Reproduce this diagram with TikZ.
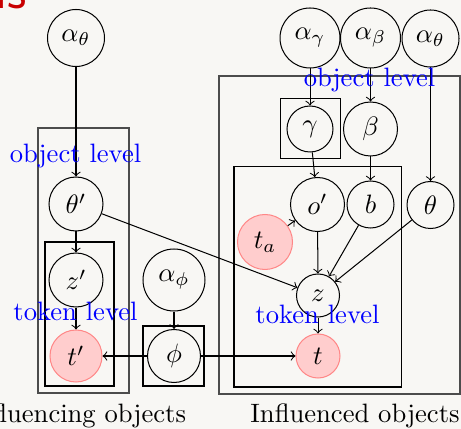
\documentclass[tikz,border=0pt]{standalone}
\usepackage{amsmath}
\definecolor{bg}{RGB}{248,247,244}
\definecolor{pinkfill}{RGB}{255,205,205}
\definecolor{pinkline}{RGB}{255,135,135}
\definecolor{titlered}{RGB}{200,0,0}
\newcommand{\pxu}{0.376pt}
\tikzset{
  var/.style={circle, draw, inner sep=0pt, line width=0.38pt},
  obs/.style={var, fill=pinkfill, draw=pinkline},
  plate/.style={draw, line width=0.38pt},
  outerplate/.style={draw=black!70, line width=0.5pt},
  lvl/.style={text=blue, anchor=base, inner sep=0pt},
  captext/.style={anchor=base, inner sep=0pt},
  arr/.style={->, line width=0.38pt},
}
\begin{document}
\begin{tikzpicture}[x=0.376pt, y=-0.376pt]
  \fill[bg] (0,0) rectangle (461,429);
  \useasboundingbox (0,0) rectangle (461,429);

  % slide title fragment
  \node[anchor=base west, inner sep=0pt, text=titlered, font=\sffamily\fontsize{20}{24}\selectfont] (title) at (-5,9) {is};

  % plates
  \draw[outerplate] (38,128) rectangle (129,393);
  \draw[plate] (45,242) rectangle (114,386);
  \draw[plate] (143,326) rectangle (204,386);
  \draw[outerplate] (219,76) rectangle (460,394);
  \draw[plate] (280,99) rectangle (340,159);
  \draw[plate] (234,167) rectangle (401,387);

  % left column
  \node[var, minimum size=57*\pxu] (athL) at (76,38) {$\alpha_\theta$};
  \node[var, minimum size=54*\pxu] (thp) at (76,204) {$\theta'$};
  \node[var, minimum size=54*\pxu] (zp) at (76,280) {$z'$};
  \node[obs, minimum size=52*\pxu] (tp) at (76,356) {$t'$};

  % middle
  \node[var, minimum size=62*\pxu] (aphi) at (174,280) {$\alpha_\phi$};
  \node[var, minimum size=53*\pxu] (phi) at (174,356) {$\phi$};

  % right side
  \node[var, minimum size=60*\pxu] (agam) at (310,38) {$\alpha_\gamma$};
  \node[var, minimum size=60*\pxu] (abet) at (370.5,38) {$\alpha_\beta$};
  \node[var, minimum size=57*\pxu] (athR) at (430.5,38.5) {$\alpha_\theta$};
  \node[var, minimum size=46*\pxu] (gam) at (310,129) {$\gamma$};
  \node[var, minimum size=54*\pxu] (bet) at (370.5,129) {$\beta$};
  \node[var, minimum size=54*\pxu] (op) at (317.5,204.5) {$o'$};
  \node[var, minimum size=47*\pxu] (b) at (370.5,204.5) {$b$};
  \node[var, minimum size=47*\pxu] (thR) at (430.5,205) {$\theta$};
  \node[obs, minimum size=55*\pxu] (ta) at (265,242) {$t_a$};
  \node[var, minimum size=43*\pxu] (z) at (318,295.5) {$z$};
  \node[obs, minimum size=44*\pxu] (t) at (318,356) {$t$};

  % connectors
  \draw[arr] (athL) -- (thp);
  \draw[arr] (thp) -- (zp);
  \draw[arr] (zp) -- (tp);
  \draw[arr] (thp) -- (z);
  \draw[arr] (aphi) -- (phi);
  \draw[arr] (phi) -- (tp);
  \draw[arr] (phi) -- (t);
  \draw[arr] (agam) -- (gam);
  \draw[arr] (gam) -- (op);
  \draw[arr] (abet) -- (bet);
  \draw[arr] (bet) -- (b);
  \draw[arr] (athR) -- (thR);
  \draw[arr] (ta) -- (op);
  \draw[arr] (op) -- (z);
  \draw[arr] (b) -- (z);
  \draw[arr] (thR) -- (z);
  \draw[arr] (z) -- (t);

  % level labels
  \node[lvl] (olL) at (75.5,163) {object level};
  \node[lvl] (olR) at (369.5,87) {object level};
  \node[lvl] (tlL) at (75.5,321) {token level};
  \node[lvl] (tlR) at (317.5,324) {token level};

  % captions
  \node[captext] (capL) at (77,423) {Influencing objects};
  \node[captext] (capR) at (355,423) {Influenced objects};
\end{tikzpicture}
\end{document}
